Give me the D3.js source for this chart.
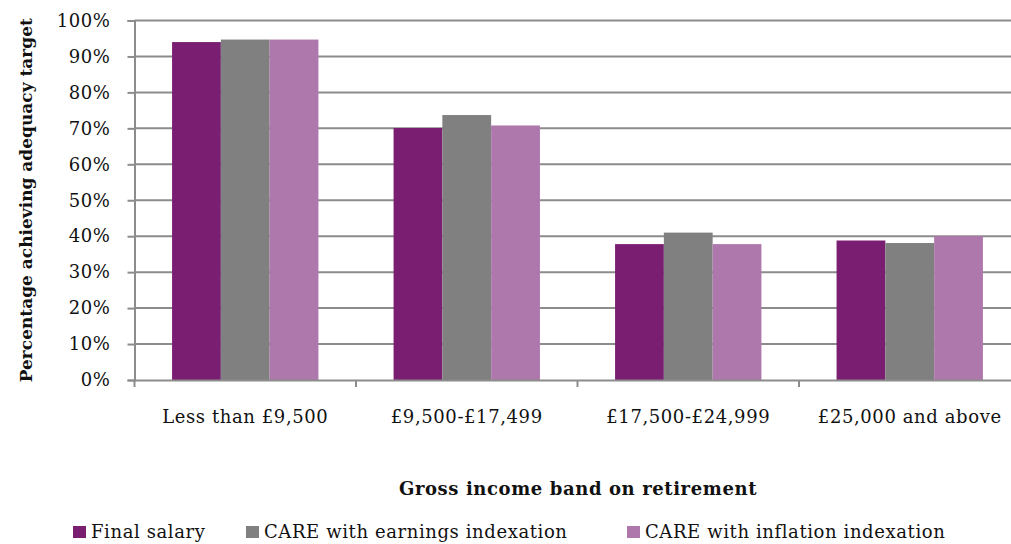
<!DOCTYPE html>
<html lang="en">
<head>
<meta charset="UTF-8">
<title>Adequacy target by income band</title>
<script src="https://d3js.org/d3.v7.min.js"></script>
<style>
    body { margin: 0; background: #fff; }
    text { font-family: "DejaVu Serif", "Liberation Serif", serif; fill: #111; letter-spacing: 0.6px; }
    .grid line { stroke: #8c8c8c; stroke-width: 2px; }
</style>
</head>
<body>
<svg id="chart" width="1011" height="544"></svg>
<script>
    // data
    const categories = ["Less than £9,500", "£9,500-£17,499", "£17,500-£24,999", "£25,000 and above"];
    const seriesNames = ["Final salary", "CARE with earnings indexation", "CARE with inflation indexation"];
    const finalSalary = [94, 70.1, 37.8, 38.8];
    const careEarnings = [94.7, 73.7, 41, 38.1];
    const careInflation = [94.7, 70.8, 37.8, 40];
    const yTicks = [0, 10, 20, 30, 40, 50, 60, 70, 80, 90, 100];
    const colors = ["#791e71", "#808080", "#ae78ac"];

    const svg = d3.select("#chart");
    const plotLeft = 134.5, plotRight = 1020.5, plotTop = 20.5, plotBottom = 380;
    const fontFam = "DejaVu Serif";

    const x0 = d3.scaleBand().domain(categories).range([plotLeft, plotRight]).padding(0);
    const x1 = d3.scaleBand().domain(seriesNames)
        .range([0, x0.bandwidth()]).paddingOuter(0.77).paddingInner(0);
    const y = d3.scaleLinear().domain([0, 100]).range([plotBottom, plotTop]);

    // gridlines
    const grid = svg.append("g").attr("class", "grid");
    grid.selectAll("line").data(yTicks.filter(d => d > 0)).join("line")
        .attr("x1", plotLeft).attr("x2", plotRight)
        .attr("y1", d => y(d)).attr("y2", d => y(d));

    // y axis
    const yAxis = svg.append("g")
        .attr("transform", `translate(${plotLeft},0)`)
        .call(d3.axisLeft(y).tickValues(yTicks).tickFormat(d => d + "%").tickSize(7).tickPadding(17));
    yAxis.select(".domain").attr("stroke", "#8c8c8c").attr("stroke-width", 2);
    yAxis.selectAll(".tick line").attr("stroke", "#8c8c8c").attr("stroke-width", 2);
    yAxis.selectAll(".tick text").attr("font-size", 18).attr("font-family", fontFam).attr("fill", "#111");

    // bars
    const rows = categories.map((c, i) => ({
        cat: c,
        vals: [finalSalary[i], careEarnings[i], careInflation[i]]
    }));
    const groups = svg.append("g").selectAll("g").data(rows).join("g")
        .attr("transform", d => `translate(${x0(d.cat)},0)`);
    groups.selectAll("rect").data(d => d.vals.map((v, j) => ({ name: seriesNames[j], v, j })))
        .join("rect")
        .attr("x", d => x1(d.name))
        .attr("width", x1.bandwidth())
        .attr("y", d => y(d.v))
        .attr("height", d => y(0) - y(d.v))
        .attr("fill", d => colors[d.j]);

    // x axis
    const xAxis = svg.append("g")
        .attr("transform", `translate(0,${plotBottom})`)
        .call(d3.axisBottom(x0).tickSize(0).tickPadding(30));
    xAxis.select(".domain").attr("stroke", "#8c8c8c").attr("stroke-width", 2);
    xAxis.selectAll(".tick text").attr("font-size", 18).attr("font-family", fontFam).attr("fill", "#111");
    // category separator ticks
    svg.append("g").selectAll("line")
        .data(categories.map(c => x0(c)).concat([plotRight]))
        .join("line")
        .attr("x1", d => d).attr("x2", d => d)
        .attr("y1", plotBottom).attr("y2", plotBottom + 7)
        .attr("stroke", "#8c8c8c").attr("stroke-width", 2);

    // axis titles
    svg.append("text")
        .attr("transform", `translate(32,${(plotTop + plotBottom) / 2}) rotate(-90)`)
        .attr("text-anchor", "middle")
        .attr("font-size", 17).attr("font-weight", "bold")
        .style("letter-spacing", "0px")
        .text("Percentage achieving adequacy target");
    svg.append("text")
        .attr("x", 578).attr("y", 495)
        .attr("text-anchor", "middle")
        .attr("font-size", 18).attr("font-weight", "bold")
        .text("Gross income band on retirement");

    // legend
    const legendX = [73, 246, 627];
    const legend = svg.append("g").selectAll("g").data(seriesNames).join("g")
        .attr("transform", (d, i) => `translate(${legendX[i]},538)`);
    legend.append("rect").attr("x", 0).attr("y", -12).attr("width", 13).attr("height", 12)
        .attr("fill", (d, i) => colors[i]);
    legend.append("text").attr("x", 18).attr("y", 0)
        .attr("font-size", 18)
        .text(d => d);
</script>
</body>
</html>
